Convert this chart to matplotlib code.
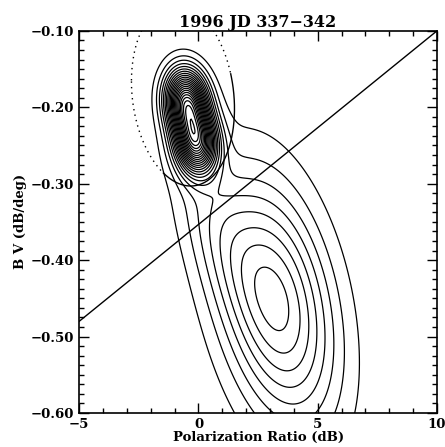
import numpy as np
import matplotlib
matplotlib.use("Agg")
import matplotlib.pyplot as plt
from matplotlib.ticker import MultipleLocator

# density components: amplitude, centre x, centre y, sigma x, sigma y, correlation
comp_amp = [18.0, 18.0, 8.3, 2.0]
comp_cx = [-0.50, -0.10, 3.25, 0.6]
comp_cy = [-0.192, -0.245, -0.455, -0.35]
comp_sx = [0.58, 0.58, 1.7, 1.3]
comp_sy = [0.028, 0.028, 0.11, 0.08]
comp_rho = [-0.1, -0.1, -0.35, -0.6]
levels = np.arange(1, 40, 1)

# fitted ellipse (upper cluster)
ell_cx, ell_cy = -0.65, -0.184
ell_sx, ell_sy, ell_rho = 2.16, 0.119, -0.15

# separating line
line_x = [-5, 10]
line_y = [-0.48, -0.10]

xg = np.linspace(-5, 10, 301)
yg = np.linspace(-0.65, -0.05, 301)
X, Y = np.meshgrid(xg, yg)
Z = np.zeros_like(X)
for a, cx, cy, sx, sy, r in zip(comp_amp, comp_cx, comp_cy, comp_sx, comp_sy, comp_rho):
    u = (X - cx) / sx
    v = (Y - cy) / sy
    q = (u**2 - 2*r*u*v + v**2) / (1 - r**2)
    Z += a * np.exp(-q / 2)

fig = plt.figure(figsize=(4.45, 4.47), dpi=100)
ax = fig.add_axes([0.178, 0.076, 0.804, 0.855])
ax.contour(X, Y, Z, levels=levels, colors='black', linewidths=0.9)

ax.plot(line_x, line_y, color='black', lw=1.0)

t = np.linspace(-np.pi, np.pi, 400)
ex = ell_cx + ell_sx*np.cos(t)
ey = ell_cy + ell_sy*(ell_rho*np.cos(t) + np.sqrt(1 - ell_rho**2)*np.sin(t))
solid = (t > np.radians(-113)) & (t < np.radians(23))
ax.plot(ex[solid], ey[solid], color='black', lw=1.0)
ax.plot(np.where(solid, np.nan, ex), np.where(solid, np.nan, ey), color='black', lw=1.0, ls=(0, (1, 3)))

ax.set_xlim(-5, 10)
ax.set_ylim(-0.60, -0.10)
ax.xaxis.set_major_locator(MultipleLocator(5))
ax.xaxis.set_minor_locator(MultipleLocator(1))
ax.yaxis.set_major_locator(MultipleLocator(0.1))
ax.yaxis.set_minor_locator(MultipleLocator(0.0125))
ax.tick_params(which='both', direction='in', top=True, right=True, width=1.0)
ax.tick_params(which='major', length=7)
ax.tick_params(which='minor', length=3.5)
ax.xaxis.set_major_formatter(plt.FuncFormatter(lambda v, p: ('%d' % v).replace('-', '\u2212')))
ax.yaxis.set_major_formatter(plt.FuncFormatter(lambda v, p: ('%.2f' % v).replace('-', '\u2212')))
for lab in ax.get_xticklabels() + ax.get_yticklabels():
    lab.set_family('DejaVu Serif')
    lab.set_weight('bold')
    lab.set_fontsize(9.5)
for s in ax.spines.values():
    s.set_linewidth(1.2)

ax.set_title('1996 JD 337\u2212342', family='DejaVu Serif', weight='bold', fontsize=11.5, pad=3)
ax.set_xlabel('Polarization Ratio (dB)', family='DejaVu Serif', weight='bold', fontsize=9.5, labelpad=0)
ax.set_ylabel('B V (dB/deg)', family='DejaVu Serif', weight='bold', fontsize=9.5, labelpad=3)

fig.savefig('out.png', dpi=100)
